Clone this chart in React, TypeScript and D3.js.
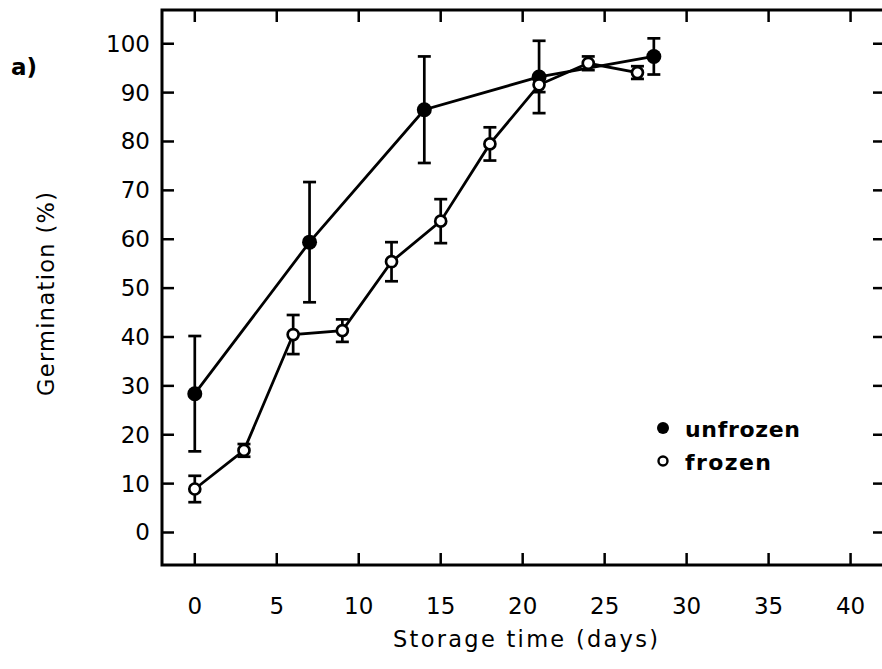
import React from "react";
import * as d3 from "d3";

const unfrozenDays = [0, 7, 14, 21, 28];
const unfrozenGerm = [28.4, 59.4, 86.5, 93.2, 97.4];
const unfrozenErr = [11.8, 12.3, 10.9, 7.4, 3.7];

const frozenDays = [0, 3, 6, 9, 12, 15, 18, 21, 24, 27];
const frozenGerm = [8.9, 16.8, 40.5, 41.3, 55.4, 63.7, 79.5, 91.6, 96.0, 94.1];
const frozenErr = [2.7, 1.3, 4.0, 2.3, 4.0, 4.5, 3.4, 1.5, 1.4, 1.3];

const xTicks = [0, 5, 10, 15, 20, 25, 30, 35, 40];
const yTicks = [0, 10, 20, 30, 40, 50, 60, 70, 80, 90, 100];

const W = 882;
const H = 669;
const LEFT = 162;
const RIGHT = 885;
const TOP = 10;
const BOTTOM = 565;
const FONT = "'DejaVu Sans', sans-serif";

export default function App() {
  const x = d3.scaleLinear().domain([-2, 42.1]).range([LEFT, RIGHT]);
  const y = d3.scaleLinear().domain([-6.65, 106.9]).range([BOTTOM, TOP]);
  const line = d3
    .line<[number, number]>()
    .x((d) => x(d[0]))
    .y((d) => y(d[1]));

  const unf: [number, number][] = unfrozenDays.map((d, i) => [d, unfrozenGerm[i]]);
  const fro: [number, number][] = frozenDays.map((d, i) => [d, frozenGerm[i]]);
  const cap = 6.5;
  const tickLen = 12;

  const errBar = (d: number, v: number, e: number, k: string) => (
    <g key={k} stroke="#000" strokeWidth={2.7}>
      <line x1={x(d)} x2={x(d)} y1={y(v + e)} y2={y(v - e)} />
      <line x1={x(d) - cap} x2={x(d) + cap} y1={y(v + e)} y2={y(v + e)} />
      <line x1={x(d) - cap} x2={x(d) + cap} y1={y(v - e)} y2={y(v - e)} />
    </g>
  );

  return (
    <svg
      width={W}
      height={H}
      style={{ position: "absolute", left: 0, top: 0, background: "#fff" }}
    >
      <rect x={0} y={0} width={W} height={H} fill="#fff" />
      <rect
        x={LEFT}
        y={TOP}
        width={RIGHT - LEFT}
        height={BOTTOM - TOP}
        fill="none"
        stroke="#000"
        strokeWidth={3}
      />
      {xTicks.map((t) => (
        <g key={"xt" + t} stroke="#000" strokeWidth={2.5}>
          <line x1={x(t)} x2={x(t)} y1={BOTTOM} y2={BOTTOM - tickLen} />
          <line x1={x(t)} x2={x(t)} y1={TOP} y2={TOP + tickLen} />
        </g>
      ))}
      {xTicks.map((t) => (
        <text
          key={"xl" + t}
          x={x(t)}
          y={614}
          textAnchor="middle"
          fontFamily={FONT}
          fontSize={23}
          fill="#000"
        >
          {t}
        </text>
      ))}
      {yTicks.map((t) => (
        <g key={"yt" + t} stroke="#000" strokeWidth={2.5}>
          <line x1={LEFT} x2={LEFT + tickLen} y1={y(t)} y2={y(t)} />
          <line x1={RIGHT} x2={RIGHT - tickLen} y1={y(t)} y2={y(t)} />
        </g>
      ))}
      {yTicks.map((t) => (
        <text
          key={"yl" + t}
          x={150}
          y={y(t) + 8}
          textAnchor="end"
          fontFamily={FONT}
          fontSize={23}
          fill="#000"
        >
          {t}
        </text>
      ))}
      <text
        x={393}
        y={647}
        fontFamily={FONT}
        fontSize={22.5}
        textLength={265}
        lengthAdjust="spacing"
        fill="#000"
      >
        Storage time (days)
      </text>
      <text
        transform="translate(54,396) rotate(-90)"
        fontFamily={FONT}
        fontSize={22.5}
        textLength={204}
        lengthAdjust="spacing"
        fill="#000"
      >
        Germination (%)
      </text>
      <text
        x={11}
        y={75}
        fontFamily={FONT}
        fontSize={23}
        fontWeight="bold"
        fill="#000"
      >
        a)
      </text>
      <path d={line(unf) || ""} fill="none" stroke="#000" strokeWidth={2.8} />
      <path d={line(fro) || ""} fill="none" stroke="#000" strokeWidth={2.8} />
      {unfrozenDays.map((d, i) => errBar(d, unfrozenGerm[i], unfrozenErr[i], "ue" + i))}
      {frozenDays.map((d, i) => errBar(d, frozenGerm[i], frozenErr[i], "fe" + i))}
      {unf.map((p, i) => (
        <circle key={"up" + i} cx={x(p[0])} cy={y(p[1])} r={7.5} fill="#000" />
      ))}
      {fro.map((p, i) => (
        <circle
          key={"fp" + i}
          cx={x(p[0])}
          cy={y(p[1])}
          r={5.5}
          fill="#fff"
          stroke="#000"
          strokeWidth={2.7}
        />
      ))}
      <circle cx={663} cy={428} r={6} fill="#000" />
      <circle cx={663} cy={461} r={4.5} fill="#fff" stroke="#000" strokeWidth={2.4} />
      <text
        x={685}
        y={437}
        fontFamily={FONT}
        fontSize={22}
        fontWeight="bold"
        textLength={115}
        lengthAdjust="spacing"
        fill="#000"
      >
        unfrozen
      </text>
      <text
        x={685}
        y={470}
        fontFamily={FONT}
        fontSize={22}
        fontWeight="bold"
        textLength={86}
        lengthAdjust="spacing"
        fill="#000"
      >
        frozen
      </text>
    </svg>
  );
}
